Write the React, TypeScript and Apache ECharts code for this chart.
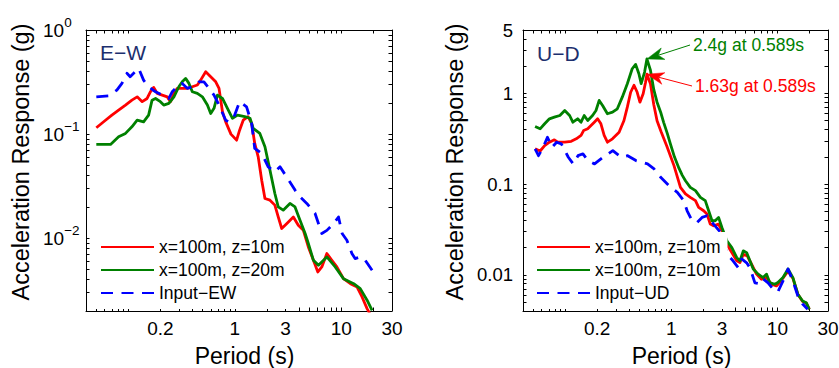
import React, { useEffect, useRef } from "react";
import * as echarts from "echarts";

const FONT = "'Liberation Sans', Arial, Helvetica, sans-serif";
const RED = "#ff0000";
const GREEN = "#008000";
const BLUE = "#0000ff";
const NAVY = "#1c2f6e";

// ---- axes ----
const periodRange = [0.04, 30];
const periodTickLabels = [0.2, 1, 3, 10, 30];
const ewAccRange = [0.002, 1];
const ewAccTickLabels = [0.01, 0.1, 1];
const udAccRange = [0.004, 5];
const udAccTickLabels = [0.01, 0.1, 1, 5];

// ---- legend names ----
const ewNames = ["x=100m, z=10m", "x=100m, z=20m", "Input\u2212EW"];
const udNames = ["x=100m, z=10m", "x=100m, z=10m", "Input\u2212UD"];

// ---- E-W data ----
const ewZ10Period = [0.05, 0.061, 0.07, 0.081, 0.094, 0.108, 0.121, 0.135, 0.15, 0.161, 0.173, 0.187, 0.208, 0.232, 0.249, 0.268, 0.288, 0.321, 0.358, 0.399, 0.445, 0.478, 0.533, 0.594, 0.662, 0.711, 0.766, 0.822, 0.92, 1.04, 1.11, 1.2, 1.33, 1.44, 1.54, 1.66, 1.79, 1.92, 2.14, 2.38, 2.56, 2.76, 3.07, 3.55, 3.95, 4.41, 4.91, 5.48, 6.03, 6.57, 7.33, 8.17, 9.1, 10.5, 12.2, 14.1, 15.7, 17.5, 18.5];
const ewZ10Acc = [0.115, 0.136, 0.152, 0.17, 0.19, 0.212, 0.228, 0.205, 0.22, 0.255, 0.281, 0.246, 0.237, 0.228, 0.205, 0.246, 0.275, 0.275, 0.275, 0.285, 0.296, 0.33, 0.397, 0.356, 0.318, 0.275, 0.164, 0.131, 0.1, 0.0875, 0.109, 0.136, 0.147, 0.127, 0.0814, 0.0605, 0.0361, 0.0241, 0.0232, 0.0208, 0.016, 0.0124, 0.0138, 0.016, 0.0133, 0.0119, 0.00825, 0.00614, 0.00474, 0.0053, 0.00713, 0.00614, 0.0053, 0.00409, 0.00366, 0.0034, 0.00273, 0.00211, 0.0019];

const ewZ20Period = [0.05, 0.068, 0.081, 0.094, 0.108, 0.121, 0.139, 0.155, 0.167, 0.18, 0.2, 0.215, 0.24, 0.268, 0.298, 0.321, 0.345, 0.371, 0.399, 0.445, 0.496, 0.553, 0.594, 0.638, 0.687, 0.766, 0.853, 0.951, 1.06, 1.24, 1.39, 1.49, 1.72, 1.92, 2.14, 2.38, 2.56, 2.85, 3.3, 3.68, 4.1, 4.58, 4.91, 5.48, 6.11, 7.33, 8.78, 10.5, 13.1, 15.1, 17.5, 19.5];
const ewZ20Acc = [0.0796, 0.0796, 0.0942, 0.1016, 0.1175, 0.136, 0.131, 0.152, 0.212, 0.22, 0.205, 0.19, 0.197, 0.228, 0.285, 0.318, 0.343, 0.307, 0.255, 0.246, 0.228, 0.19, 0.158, 0.177, 0.237, 0.22, 0.177, 0.142, 0.152, 0.147, 0.142, 0.1135, 0.1016, 0.0755, 0.0451, 0.0269, 0.02, 0.0186, 0.0216, 0.02, 0.0149, 0.0111, 0.0089, 0.00614, 0.0055, 0.00661, 0.0053, 0.00409, 0.00366, 0.00328, 0.00254, 0.00203];

const ewInputPeriod = [0.05, 0.065, 0.078, 0.087, 0.097, 0.104, 0.116, 0.125, 0.139, 0.155, 0.18, 0.208, 0.24, 0.258, 0.288, 0.321, 0.358, 0.399, 0.461, 0.513, 0.573, 0.638, 0.711, 0.822, 0.884, 0.985, 1.11, 1.29, 1.44, 1.54, 1.79, 2.06, 2.38, 2.66, 3.07, 3.68, 4.1, 4.75, 5.68, 6.57, 7.33, 8.46, 9.43, 10.2, 11.3, 12.6, 13.5, 15.1, 16.8, 19.5];
const ewInputAcc = [0.228, 0.233, 0.265, 0.307, 0.384, 0.356, 0.397, 0.428, 0.33, 0.285, 0.255, 0.237, 0.22, 0.255, 0.285, 0.307, 0.275, 0.285, 0.318, 0.318, 0.275, 0.237, 0.19, 0.136, 0.131, 0.147, 0.205, 0.183, 0.127, 0.0728, 0.0652, 0.0485, 0.0434, 0.0485, 0.0388, 0.029, 0.025, 0.0216, 0.0173, 0.0111, 0.0119, 0.0138, 0.016, 0.0111, 0.00957, 0.00713, 0.00638, 0.00661, 0.00614, 0.00492];

// ---- U-D data ----
const udRedPeriod = [0.052, 0.058, 0.064, 0.071, 0.079, 0.085, 0.099, 0.114, 0.127, 0.141, 0.149, 0.163, 0.175, 0.188, 0.202, 0.217, 0.233, 0.25, 0.279, 0.322, 0.358, 0.385, 0.414, 0.445, 0.477, 0.506, 0.543, 0.572, 0.589, 0.636, 0.684, 0.734, 0.8, 0.91, 1.06, 1.22, 1.36, 1.51, 1.69, 1.81, 2.02, 2.17, 2.33, 2.5, 2.79, 3.0, 3.34, 3.72, 4.14, 4.44, 4.77, 5.2, 5.71, 6.36, 7.08, 7.89, 8.79, 9.79, 10.5, 12.6, 14.0, 15.6, 17.3, 18.7, 20.0];
const udRedAcc = [0.245, 0.232, 0.266, 0.29, 0.308, 0.29, 0.29, 0.297, 0.316, 0.344, 0.39, 0.408, 0.443, 0.482, 0.525, 0.463, 0.344, 0.29, 0.316, 0.373, 0.503, 0.706, 1.03, 1.23, 1.03, 0.801, 0.99, 1.33, 1.63, 1.28, 0.75, 0.5, 0.38, 0.26, 0.16, 0.0922, 0.078, 0.0715, 0.0658, 0.0554, 0.0509, 0.0469, 0.0363, 0.0348, 0.0363, 0.0306, 0.0218, 0.0176, 0.0143, 0.0137, 0.0169, 0.0162, 0.0131, 0.0102, 0.00896, 0.00934, 0.00789, 0.00756, 0.00822, 0.011, 0.0092, 0.0061, 0.0051, 0.0049, 0.0042];

const udGreenPeriod = [0.052, 0.058, 0.064, 0.071, 0.079, 0.089, 0.099, 0.11, 0.118, 0.131, 0.141, 0.151, 0.163, 0.181, 0.195, 0.209, 0.225, 0.25, 0.279, 0.31, 0.345, 0.385, 0.428, 0.461, 0.495, 0.52, 0.56, 0.589, 0.636, 0.684, 0.734, 0.794, 0.847, 0.918, 0.979, 1.07, 1.18, 1.27, 1.36, 1.51, 1.69, 1.88, 2.09, 2.25, 2.42, 2.59, 2.79, 3.0, 3.34, 3.72, 4.14, 4.44, 4.77, 5.13, 5.51, 5.92, 6.59, 7.33, 7.89, 8.47, 9.44, 10.1, 11.3, 12.6, 14.0, 15.6, 17.3, 18.7, 20.0];
const udGreenAcc = [0.432, 0.407, 0.463, 0.525, 0.547, 0.571, 0.649, 0.571, 0.482, 0.525, 0.482, 0.571, 0.503, 0.571, 0.649, 0.837, 0.737, 0.597, 0.621, 0.677, 0.91, 1.28, 1.87, 2.09, 1.65, 1.28, 1.72, 2.4, 1.8, 1.1, 0.8, 0.62, 0.48, 0.36, 0.28, 0.2, 0.15, 0.125, 0.109, 0.0922, 0.0848, 0.0715, 0.0658, 0.0509, 0.0395, 0.0395, 0.043, 0.0333, 0.0238, 0.02, 0.0155, 0.0143, 0.0184, 0.0176, 0.0143, 0.0116, 0.0102, 0.00934, 0.0102, 0.00822, 0.00789, 0.00822, 0.00934, 0.0116, 0.00934, 0.00612, 0.00516, 0.00494, 0.00418];

const udInputPeriod = [0.052, 0.056, 0.062, 0.068, 0.075, 0.083, 0.092, 0.107, 0.119, 0.132, 0.147, 0.164, 0.189, 0.227, 0.281, 0.336, 0.388, 0.464, 0.597, 0.688, 0.794, 0.95, 1.14, 1.31, 1.41, 1.57, 1.75, 1.95, 2.17, 2.5, 3.0, 3.34, 3.82, 4.28, 4.61, 5.13, 5.51, 6.14, 6.84, 7.33, 8.17, 9.1, 10.1, 11.3, 12.6, 14.0, 15.6, 17.3, 19.3];
const udInputAcc = [0.245, 0.206, 0.255, 0.329, 0.255, 0.29, 0.278, 0.198, 0.167, 0.206, 0.216, 0.182, 0.167, 0.198, 0.234, 0.198, 0.206, 0.182, 0.167, 0.147, 0.119, 0.0962, 0.0812, 0.0658, 0.0509, 0.0395, 0.0379, 0.043, 0.0449, 0.0363, 0.0282, 0.0171, 0.0143, 0.012, 0.015, 0.0136, 0.012, 0.00816, 0.00796, 0.00904, 0.00816, 0.007, 0.00649, 0.00859, 0.0116, 0.00859, 0.00586, 0.00478, 0.00418];

// ---- annotations ----
const udPeakPeriod = 0.589;
const udPeakGreen = 2.4;
const udPeakRed = 1.63;
const udPeakGreenLabel = "2.4g at 0.589s";
const udPeakRedLabel = "1.63g at 0.589s";

// ---- helpers ----
const lg = (v: number) => Math.log10(v);
const toPairs = (T: number[], A: number[]) => T.map((t, i) => [lg(t), lg(A[i])]);
function logTicks(lo: number, hi: number) {
  const out: number[] = [];
  for (let e = -4; e <= 2; e++) {
    for (let m = 1; m <= 9; m++) {
      const v = m * Math.pow(10, e);
      if (v >= lo * 0.9999 && v <= hi * 1.0001) out.push(lg(v));
    }
  }
  return out;
}
const plainFmt = (v: number) => String(+Math.pow(10, v).toPrecision(2));
const expFmt = (v: number) => {
  const e = Math.round(v);
  return `{b|10}{s|${e < 0 ? "\u2212" + -e : e}}`;
};

const axisLineStyle = { show: true, onZero: false, lineStyle: { color: "#000", width: 1 } };

function xAxesFor(grid: number) {
  const base: any = {
    type: "value",
    gridIndex: grid,
    min: lg(periodRange[0]),
    max: lg(periodRange[1]),
    splitLine: { show: false },
    axisLine: axisLineStyle,
    axisTick: {
      show: true,
      inside: true,
      length: 3.5,
      customValues: logTicks(periodRange[0], periodRange[1]),
      lineStyle: { color: "#000", width: 1 },
    },
  };
  return [
    {
      ...base,
      position: "bottom",
      axisLabel: {
        show: true,
        customValues: periodTickLabels.map(lg),
        formatter: plainFmt,
        fontSize: 19,
        fontFamily: FONT,
        color: "#000",
        margin: 8,
        showMinLabel: true,
        showMaxLabel: true,
      },
    },
    { ...base, position: "top", axisLabel: { show: false } },
  ];
}

function yAxesFor(grid: number, range: number[], labels: number[], exp: boolean) {
  const base: any = {
    type: "value",
    gridIndex: grid,
    min: lg(range[0]),
    max: lg(range[1]),
    splitLine: { show: false },
    axisLine: axisLineStyle,
    axisTick: {
      show: true,
      inside: true,
      length: 3.5,
      customValues: logTicks(range[0], range[1]),
      lineStyle: { color: "#000", width: 1 },
    },
  };
  const label: any = exp
    ? {
        show: true,
        customValues: labels.map(lg),
        formatter: expFmt,
        align: "left",
        margin: 43,
        showMinLabel: true,
        showMaxLabel: true,
        rich: {
          b: { fontSize: 19, lineHeight: 30, verticalAlign: "middle", fontFamily: FONT, color: "#000" },
          s: { fontSize: 13.5, lineHeight: 13, verticalAlign: "top", fontFamily: FONT, color: "#000" },
        },
      }
    : {
        show: true,
        customValues: labels.map(lg),
        formatter: plainFmt,
        fontSize: 18.5,
        fontFamily: FONT,
        color: "#000",
        margin: 10,
        showMinLabel: true,
        showMaxLabel: true,
      };
  return [
    { ...base, position: "left", axisLabel: label },
    { ...base, position: "right", axisLabel: { show: false } },
  ];
}

function lineSeries(id: string, T: number[], A: number[], color: string, axisIdx: number, dashed: boolean) {
  return {
    type: "line",
    name: id,
    xAxisIndex: axisIdx,
    yAxisIndex: axisIdx,
    data: toPairs(T, A),
    symbol: "none",
    showSymbol: false,
    clip: true,
    silent: true,
    lineStyle: { color, width: 2.8, type: dashed ? [12, 8.5] : "solid", join: "round" },
    itemStyle: { color },
  };
}

const displayName: Record<string, string> = {
  ew0: ewNames[0],
  ew1: ewNames[1],
  ew2: ewNames[2],
  ud0: udNames[0],
  ud1: udNames[1],
  ud2: udNames[2],
};

function legendFor(ids: string[], left: number) {
  return {
    show: true,
    data: ids,
    formatter: (n: string) => displayName[n],
    orient: "vertical",
    left,
    top: 232,
    padding: [5, 7, 6, 8],
    itemWidth: 53,
    itemHeight: 14,
    itemGap: 3,
    selectedMode: false,
    backgroundColor: "#fff",
    borderWidth: 0,
    itemStyle: { opacity: 0, borderWidth: 0 },
    textStyle: { fontSize: 17.5, lineHeight: 20, color: "#000", fontFamily: FONT },
  };
}

function textEl(id: string, text: string, x: number, y: number, size: number, fill: string, align = "left", rotation = 0) {
  return {
    id,
    type: "text",
    x,
    y,
    rotation,
    z: 20,
    style: { text, fontSize: size, fontFamily: FONT, fill, align, verticalAlign: "middle" },
  };
}

function arrowEls(id: string, from: number[], tip: number[], color: string) {
  const dx = tip[0] - from[0];
  const dy = tip[1] - from[1];
  const len = Math.hypot(dx, dy);
  const ux = dx / len;
  const uy = dy / len;
  const nx = -uy;
  const ny = ux;
  const L = 17;
  const W = 6;
  const N = 5;
  const back = [tip[0] - ux * L, tip[1] - uy * L];
  const notch = [tip[0] - ux * (L - N), tip[1] - uy * (L - N)];
  return [
    {
      id: id + "-line",
      type: "line",
      z: 20,
      shape: { x1: from[0], y1: from[1], x2: notch[0], y2: notch[1] },
      style: { stroke: color, lineWidth: 1 },
    },
    {
      id: id + "-head",
      type: "polygon",
      z: 20,
      shape: {
        points: [
          [tip[0], tip[1]],
          [back[0] + nx * W, back[1] + ny * W],
          [notch[0], notch[1]],
          [back[0] - nx * W, back[1] - ny * W],
        ],
      },
      style: { fill: color, stroke: color, lineWidth: 0.5 },
    },
  ];
}

export default function App() {
  const ref = useRef<HTMLDivElement>(null);
  useEffect(() => {
    if (!ref.current) return;
    const chart = echarts.init(ref.current, undefined, { renderer: "svg", width: 839, height: 368 });
    const option: any = {
      animation: false,
      backgroundColor: "#fff",
      grid: [
        { left: 86, top: 30, width: 306, height: 281, containLabel: false, outerBoundsMode: "none" },
        { left: 523, top: 30, width: 305, height: 281, containLabel: false, outerBoundsMode: "none" },
      ],
      xAxis: [...xAxesFor(0), ...xAxesFor(1)],
      yAxis: [...yAxesFor(0, ewAccRange, ewAccTickLabels, true), ...yAxesFor(1, udAccRange, udAccTickLabels, false)],
      legend: [legendFor(["ew0", "ew1", "ew2"], 92), legendFor(["ud0", "ud1", "ud2"], 528)],
      series: [
        lineSeries("ew0", ewZ10Period, ewZ10Acc, RED, 0, false),
        lineSeries("ew1", ewZ20Period, ewZ20Acc, GREEN, 0, false),
        lineSeries("ew2", ewInputPeriod, ewInputAcc, BLUE, 0, true),
        lineSeries("ud0", udRedPeriod, udRedAcc, RED, 2, false),
        lineSeries("ud1", udGreenPeriod, udGreenAcc, GREEN, 2, false),
        lineSeries("ud2", udInputPeriod, udInputAcc, BLUE, 2, true),
      ],
      graphic: [
        textEl("ytitle-l", "Acceleration Response (g)", 21, 162, 23.5, "#000", "center", Math.PI / 2),
        textEl("ytitle-r", "Acceleration Response (g)", 455, 162, 23.5, "#000", "center", Math.PI / 2),
        textEl("xtitle-l", "Period (s)", 244.5, 356, 23, "#000", "center"),
        textEl("xtitle-r", "Period (s)", 681.5, 356, 23, "#000", "center"),
        textEl("tag-l", "E\u2212W", 100, 52, 21, NAVY),
        textEl("tag-r", "U\u2212D", 537, 53, 21, NAVY),
        textEl("ann-g", udPeakGreenLabel, 693, 45, 17.5, GREEN),
        textEl("ann-r", udPeakRedLabel, 695, 86, 17.5, RED),
      ],
    };
    chart.setOption(option);
    const tipG = chart.convertToPixel({ seriesIndex: 4 } as any, [lg(udPeakPeriod), lg(udPeakGreen)]) as number[];
    const tipR = chart.convertToPixel({ seriesIndex: 3 } as any, [lg(udPeakPeriod), lg(udPeakRed)]) as number[];
    if (tipG && tipR) {
      chart.setOption({
        graphic: [...arrowEls("arr-g", [690, 45], tipG, GREEN), ...arrowEls("arr-r", [692, 86], tipR, RED)],
      });
    }
    return () => chart.dispose();
  }, []);
  return (
    <div
      ref={ref}
      style={{ position: "fixed", left: 0, top: 0, width: 839, height: 368, background: "#fff" }}
    />
  );
}
